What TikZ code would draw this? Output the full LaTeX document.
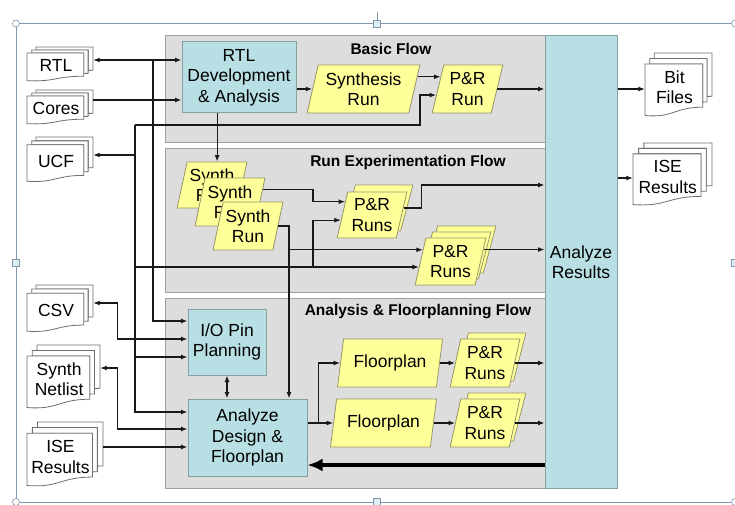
\documentclass[tikz,border=0pt]{standalone}
\usepackage{fontspec}
\setmainfont{Liberation Sans}
\usetikzlibrary{shapes.geometric,arrows.meta,calc}
\usepackage{xcolor}
\definecolor{panelgray}{RGB}{221,221,221}
\definecolor{paneledge}{RGB}{160,160,160}
\definecolor{boxblue}{RGB}{184,223,227}
\definecolor{boxedge}{RGB}{135,158,163}
\definecolor{paleyellow}{RGB}{255,255,153}
\definecolor{yellowedge}{RGB}{150,150,105}
\definecolor{docedge}{RGB}{110,110,110}
\definecolor{frameblue}{RGB}{130,150,175}

\newcommand{\diafont}{\fontsize{17.5}{20.5}\selectfont}
\newcommand{\titlefont}{\fontsize{15.5}{18}\selectfont\bfseries}

\tikzset{
  panel/.style={draw=paneledge, fill=panelgray, line width=1pt},
  bluebox/.style={draw=boxedge, fill=boxblue, line width=1pt, align=center, inner sep=0pt, font=\diafont},
  para/.style={trapezium, trapezium left angle=75, trapezium right angle=105, trapezium stretches=true,
    draw=yellowedge, fill=paleyellow, line width=0.8pt, align=center, inner sep=1pt, font=\diafont},
  docpage/.style={draw=docedge, fill=white, line width=0.8pt},
  docframe/.style={inner sep=0pt, draw=none},
  doctext/.style={align=center, font=\diafont, inner sep=0pt},
  flowtitle/.style={font=\titlefont},
  wire/.style={line width=1.2pt, draw=black!90},
  handle/.style={draw=frameblue, fill=white, line width=0.6pt},
  >={Latex[length=6.5pt,width=5pt]},
}

% stacked documents: name, left, top, right, bottom, text
\newcommand{\docstack}[6]{%
  \begin{scope}[shift={(#2,#3)}, xscale={(#4-#2)/216}, yscale={(#5-#3)/216}]
    \draw[docpage] (29.72,18.15) -- (29.72,0) -- (216,0) -- (216,143.92)
      .. controls (208,143.92) and (200,144.67) .. (200,144.67) -- (200,18.15) -- cycle;
    \draw[docpage] (15.32,36.75) -- (15.32,18.15) -- (200,18.15) -- (200,162.52)
      .. controls (192.98,162.52) and (185.95,163.52) .. (185.95,163.52) -- (185.95,36.75) -- cycle;
    \draw[docpage] (0,36.75) -- (185.95,36.75) -- (185.95,180.22)
      .. controls (92.98,180.22) and (92.98,216) .. (0,207.82) -- cycle;
  \end{scope}
  \node[docframe, minimum width={(#4-#2)*1pt}, minimum height={(#5-#3)*1pt}] (#1) at ({(#2+#4)/2},{(#3+#5)/2}) {};
  \node[doctext] (#1-t) at ({#2+0.44*(#4-#2)},{#3+0.53*(#5-#3)}) {#6};
}

\begin{document}
\begin{tikzpicture}[x=1pt, y=-1pt]
    \useasboundingbox (0,0) rectangle (735,505);

    % selection frame
    \draw[frameblue, line width=0.8pt] (16,23.5) rectangle (735,502);
    \draw[frameblue, line width=0.6pt] (377,12) -- (377,20);
    \foreach \hx/\hy in {16/23.5, 735/23.5, 16/502, 735/502}
        \draw[handle] (\hx,\hy) circle (3.5pt);
    \foreach \hx/\hy in {377/23.5, 16/263, 377/502, 735/263}
        \draw[handle, fill=boxblue!50] (\hx-3.5,\hy-3.5) rectangle (\hx+3.5,\hy+3.5);

    % flow panels
    \draw[panel] (165,36) rectangle (545,143);
    \draw[panel] (165,149) rectangle (545,292);
    \draw[panel] (165,298) rectangle (545,488);
    \node[bluebox, minimum width=72pt, minimum height=452pt] (analyze) at (581,262) {Analyze\\Results};

    % Basic flow
    \node[flowtitle] (basictitle) at (391,49) {Basic Flow};
    \node[bluebox, minimum width=114pt, minimum height=71pt] (rtldev) at (239,77.5) {RTL\\Development\\\& Analysis};
    \node[para, minimum width=113pt, minimum height=48pt] (synth) at (363.5,89) {Synthesis\\Run};
    \node[para, minimum width=71pt, minimum height=48pt] (pr) at (467.5,89) {P\&R\\Run};

    % Run experimentation flow
    \node[flowtitle] (runtitle) at (408,162) {Run Experimentation Flow};
    \node[para, minimum width=70pt, minimum height=46pt] (s1) at (212,185) {Synth\\Run};
    \node[para, minimum width=70pt, minimum height=48pt] (s2) at (230,202) {Synth\\Run};
    \node[para, minimum width=70pt, minimum height=48pt] (s3) at (248,226) {Synth\\Run};
    \node[para, minimum width=70pt, minimum height=46pt] (prA-1) at (378,208) {\phantom{X}};
    \node[para, minimum width=70pt, minimum height=46pt] (prA) at (372,215) {P\&R\\Runs};
    \foreach \k in {2,1}
        \node[para, minimum width=71pt, minimum height=47pt] (prB-\k) at ({450.5+5*\k},{261.5-6*\k}) {\phantom{X}};
    \node[para, minimum width=71pt, minimum height=47pt] (prB) at (450.5,261.5) {P\&R\\Runs};

    % Analysis & floorplanning flow
    \node[flowtitle] (antitle) at (418,312) {Analysis \& Floorplanning Flow};
    \node[bluebox, minimum width=78pt, minimum height=66pt] (iopin) at (227,342) {I/O Pin\\Planning};
    \node[bluebox, minimum width=119pt, minimum height=77pt] (adesign) at (247.5,437.5) {Analyze\\Design \&\\Floorplan};
    \node[para, minimum width=106pt, minimum height=48pt] (fp1) at (390,363) {Floorplan};
    \node[para, minimum width=107pt, minimum height=48pt] (fp2) at (383.5,423) {Floorplan};
    \node[para, minimum width=70pt, minimum height=48pt] (prC-1) at (491,357) {\phantom{X}};
    \node[para, minimum width=70pt, minimum height=48pt] (prC) at (485,363) {P\&R\\Runs};
    \node[para, minimum width=70pt, minimum height=48pt] (prD-1) at (491,417) {\phantom{X}};
    \node[para, minimum width=70pt, minimum height=48pt] (prD) at (485,423) {P\&R\\Runs};

    % documents
    \docstack{rtl}{27}{47}{93}{82}{RTL}
    \docstack{cores}{27}{90}{93}{125}{Cores}
    \docstack{ucf}{27}{137}{93}{183}{UCF}
    \docstack{csv}{27}{285}{93}{333}{CSV}
    \docstack{netlist}{27}{345}{100}{410}{Synth\\Netlist}
    \docstack{isel}{27}{422}{103}{488}{ISE\\Results}
    \docstack{bits}{645}{53}{712}{118}{Bit\\Files}
    \docstack{iser}{633}{143}{712}{207}{ISE\\Results}

    % junctions and ports
    \coordinate (jA) at (153,60);
    \coordinate (jB) at (135,125);
    \coordinate (s1top) at ($(s1.top left corner)!0.5!(s1.top right corner)$);
    \coordinate (s2out) at ($(s2.right side)!0.5!(s2.top right corner)$);
    \coordinate (prAin1) at ($(prA.left side)!0.57!(prA.top left corner)$);
    \coordinate (prAin2) at ($(prA.left side)!0.22!(prA.bottom left corner)$);
    \coordinate (prAout) at ($(prA.right side)!0.3!(prA.top right corner)$);
    \coordinate (prBin1) at ($(prB.left side)!0.49!(prB.top left corner)$);
    \coordinate (prBin2) at ($(prB.left side)!0.23!(prB.bottom left corner)$);
    \coordinate (prBout) at ($(prB.right side)!0.5!(prB.top right corner)$);
    \coordinate (jC) at (prBin2 -| 313,0);
    \coordinate (s3x) at ($(adesign.north)+(41.5,0)$);
    \coordinate (ucfin) at ($(ucf.east)+(0,-5)$);
    \coordinate (iopinB) at ($(iopin.west)+(0,15)$);
    \coordinate (jE) at ($(adesign.east)+(11,-14.5)$);

    % basic flow connectors
    \draw[wire,<->] ($(rtl.east)+(0,-4.5)$) -- ($(rtldev.west)+(0,-17.5)$);
    \draw[wire,->] ($(cores.east)+(0,-7.5)$) -- ($(rtldev.west)+(0,22.5)$);
    \draw[wire,->] (rtldev.east |- synth.left side) -- (synth.left side);
    \draw[wire,->] ($(synth.right side)!0.5!(synth.top right corner)$) -- ($(pr.left side)!0.5!(pr.top left corner)$);
    \draw[wire,->] (jB) -- ++(285,0) |- ($(pr.left side)!0.25!(pr.bottom left corner)$);
    \draw[wire,->] (pr.right side) -- (analyze.west |- pr.right side);
    \draw[wire,->] (analyze.east |- pr.right side) -- (bits.west |- pr.right side);
    \draw[wire,->] ($(analyze.east |- iser.west)+(0,3)$) -- ($(iser.west)+(0,3)$);

    % buses on the left
    \draw[wire,->] (jA) |- ($(iopin.west)+(0,-21)$);
    \draw[wire,->] (jB) |- ($(adesign.west)+(0,-25.5)$);
    \draw[wire,->] (jB |- ucfin) -- (ucfin);
    \draw[wire,->] (jB |- iopinB) -- (iopinB);

    % run experimentation connectors
    \draw[wire,->] (s1top |- rtldev.south) -- (s1top);
    \draw[wire,->] (s2out) -| (jC |- prAin1) -- (prAin1);
    \draw[wire,->] (jC) |- (prAin2);
    \draw[wire,->] (jB |- prBin2) -- (prBin2);
    \draw[wire,->] (s3.right side) -| (s3x);
    \draw[wire,->] (s3x |- prBin1) -- (prBin1);
    \draw[wire,->] (prAout) -- ++(18,0) |- ($(analyze.west)+(0,-77)$);
    \draw[wire,->] (prBout) -- (analyze.west |- prBout);

    % analysis connectors
    \draw[wire,<->] ($(csv.east)+(0,-6)$) -- ++(24,0) |- ($(iopin.west)+(0,-3)$);
    \draw[wire,<->] ($(netlist.east)+(0,-9.5)$) -- ++(17,0) |- ($(adesign.west)+(0,-8.5)$);
    \draw[wire,->] ($(isel.east)+(0,-8)$) -- ($(adesign.west)+(0,9.5)$);
    \draw[wire,<->] (iopin.south) -- (iopin.south |- adesign.north);
    \draw[wire,->] ($(adesign.east)+(0,-14.5)$) -- (fp2.left side);
    \draw[wire,->] (jE) |- (fp1.left side);
    \draw[wire,->] (fp1.right side) -- (prC.left side);
    \draw[wire,->] (fp2.right side) -- (prD.left side);
    \draw[wire,->] (prC.right side) -- (analyze.west |- prC.right side);
    \draw[wire,->] (prD.right side) -- (analyze.west |- prD.right side);
    \draw[line width=4pt, -{Latex[length=15pt,width=13pt]}] (analyze.west |- 0,465) -- ($(adesign.east)+(0,27.5)$);
\end{tikzpicture}
\end{document}
